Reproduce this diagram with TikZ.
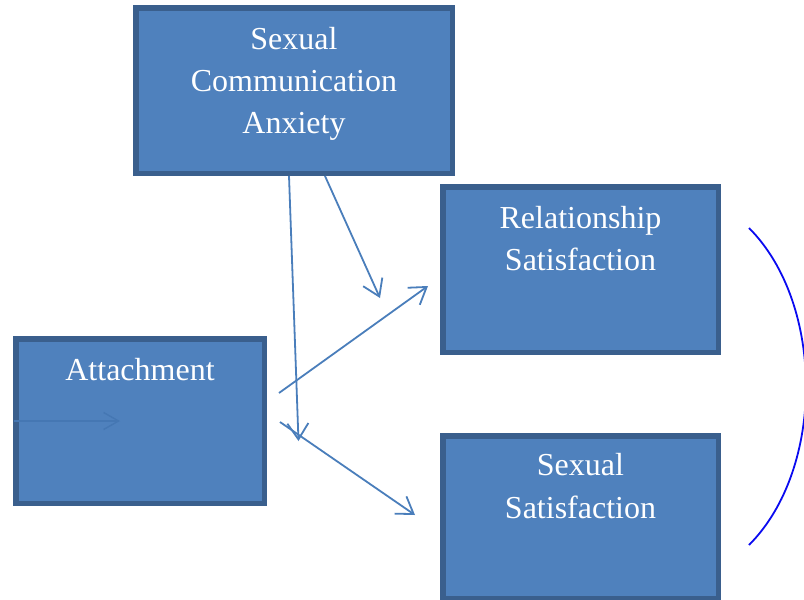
\documentclass[tikz,border=0pt]{standalone}
\usepackage{fontspec}
\setmainfont{Liberation Serif}
\usetikzlibrary{arrows.meta}
\definecolor{boxfill}{HTML}{4F81BD}
\definecolor{boxedge}{HTML}{3A5F8D}
\definecolor{linkblue}{HTML}{4A7EBB}
\definecolor{faintblue}{HTML}{4577B3}
\definecolor{pureblue}{HTML}{0A0AF0}
\tikzset{
  varbox/.style={draw=boxedge, fill=boxfill, line width=5.5pt, rectangle, inner sep=0pt},
  boxtext/.style={text=white, font=\fontsize{32}{42}\selectfont, anchor=base, inner sep=0pt},
  link/.style={draw=linkblue, line width=1.8pt, -{Straight Barb[length=16pt,width=21pt,line width=1.8pt]}},
  faintlink/.style={draw=faintblue, line width=1.4pt, -{Straight Barb[length=15pt,width=17pt,line width=1.4pt]}},
  covary/.style={draw=pureblue, line width=1.8pt}
}
\begin{document}
\begin{tikzpicture}[x=1pt, y=-1pt]
  \useasboundingbox (0,0) rectangle (804,600);

  % variable boxes
  \node[varbox, minimum width=316.5pt, minimum height=165.5pt] (sca) at (294,90.5) {};
  \node[varbox, minimum width=275.5pt, minimum height=165.5pt] (rs) at (580.5,269.5) {};
  \node[varbox, minimum width=275.5pt, minimum height=162.5pt] (ss) at (580.5,517) {};
  \node[varbox, minimum width=248.5pt, minimum height=164.5pt] (att) at (140,421) {};

  % box labels
  \node[boxtext] (scaA) at (294,49) {Sexual};
  \node[boxtext] (scaB) at (294,91) {Communication};
  \node[boxtext] (scaC) at (294,133) {Anxiety};
  \node[boxtext] (rsA) at (580.5,228) {Relationship};
  \node[boxtext] (rsB) at (580.5,270) {Satisfaction};
  \node[boxtext] (ssA) at (580.5,475) {Sexual};
  \node[boxtext] (ssB) at (580.5,518) {Satisfaction};
  \node[boxtext] (attA) at (140,380) {Attachment};

  % connector end points
  \coordinate (p1s) at (289,176);
  \coordinate (p1e) at (298.5,441);
  \coordinate (p2s) at (325,176);
  \coordinate (p2e) at (380,298);
  \coordinate (p3s) at (279,393);
  \coordinate (p3e) at (428,286);
  \coordinate (p4s) at (280,422);
  \coordinate (p4e) at (415,515);
  \coordinate (p5s) at (14,421);
  \coordinate (p5e) at (120,421);
  \coordinate (c1) at (749,228);
  \coordinate (c2) at (749,545);

  % paths
  \draw[link] (p1s) -- (p1e);
  \draw[link] (p2s) -- (p2e);
  \draw[link] (p3s) -- (p3e);
  \draw[link] (p4s) -- (p4e);
  \draw[faintlink] (p5s) -- (p5e);

  % covariance between the outcomes
  \draw[covary] (c1) .. controls (825,304) and (825,469) .. (c2);
\end{tikzpicture}
\end{document}
